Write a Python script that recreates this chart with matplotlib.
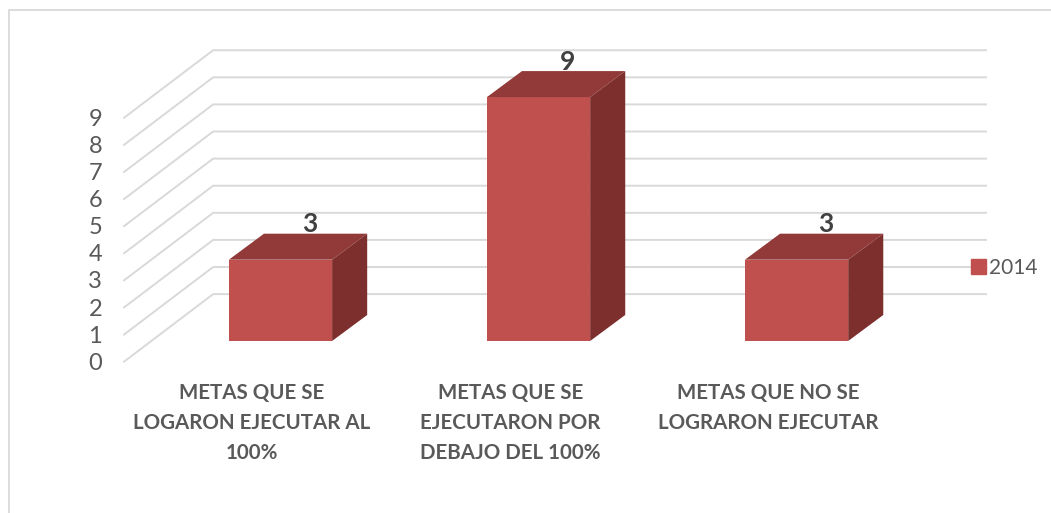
import matplotlib
matplotlib.use('Agg')
import matplotlib.pyplot as plt
from matplotlib.patches import Polygon, Patch

categories = ['METAS QUE SE\nLOGARON EJECUTAR AL\n100%',
              'METAS QUE SE\nEJECUTARON POR\nDEBAJO DEL 100%',
              'METAS QUE NO SE\nLOGRARON EJECUTAR']
values = [3, 9, 3]
y_ticks = [0, 1, 2, 3, 4, 5, 6, 7, 8, 9]
series_name = '2014'

plt.rcParams['font.family'] = ['Lato', 'DejaVu Sans']

front_color = '#c0504d'
top_color = '#913a39'
side_color = '#7d2f2d'
grid_color = '#d9d9d9'
tick_color = '#595959'

# 1 category = 258 px, 1 value unit = 27.1 px, rest comes from the axis limits
fig = plt.figure(figsize=(10.51, 5.13), dpi=100)
ax = fig.add_axes([0, 0, 1, 1])
ax.set_xlim(-1.087, 2.986)
ax.set_ylim(-5.587, 13.343)
ax.axis('off')

# depth of the fake 3D floor and of the boxes
wall_dx, wall_dy = 0.345, 2.49
bar_dx, bar_dy = 0.136, 0.96
bar_w = 0.4
bar_base = 0.76
left_x = -0.606
right_x = 2.734

# outer chart border
ax.plot([-1.052, -1.052, 2.986], [-5.587, 12.97, 12.97], color=grid_color, lw=1.3)

# gridlines: slanted side wall then back wall
for v in y_ticks:
    ax.plot([left_x, left_x + wall_dx, right_x], [v, v + wall_dy, v + wall_dy],
            color=grid_color, lw=1.4, zorder=1)
    ax.text(left_x - 0.085, v - 0.06, str(v), ha='right', va='center', fontsize=17,
            color=tick_color)

# boxes
for i, v in enumerate(values):
    x0 = i - bar_w / 2
    x1 = i + bar_w / 2
    y0 = bar_base
    y1 = bar_base + v
    ax.add_patch(Polygon([(x0, y0), (x1, y0), (x1, y1), (x0, y1)], color=front_color, lw=0, zorder=3))
    ax.add_patch(Polygon([(x0, y1), (x1, y1), (x1 + bar_dx, y1 + bar_dy), (x0 + bar_dx, y1 + bar_dy)],
                         color=top_color, lw=0, zorder=3))
    ax.add_patch(Polygon([(x1, y0), (x1 + bar_dx, y0 + bar_dy), (x1 + bar_dx, y1 + bar_dy), (x1, y1)],
                         color=side_color, lw=0, zorder=3))
    ax.text(i + 0.112, y1 + bar_dy + 0.35, str(v), ha='center', va='center', fontsize=19,
            fontweight='bold', color='#404040', zorder=4)

# category labels
for i, name in enumerate(categories):
    ax.text(i - 0.11, -0.79, name, ha='center', va='top', fontsize=14.75, fontweight='bold',
            color=tick_color, linespacing=1.62)

handles = [Patch(color=front_color, label=series_name)]
ax.legend(handles=handles, loc='center left', bbox_to_anchor=(0.906, 0.478), frameon=False,
          fontsize=15, labelcolor=tick_color, handlelength=0.7, handleheight=0.7,
          handletextpad=0.15)

fig.savefig('out.png', dpi=100)
